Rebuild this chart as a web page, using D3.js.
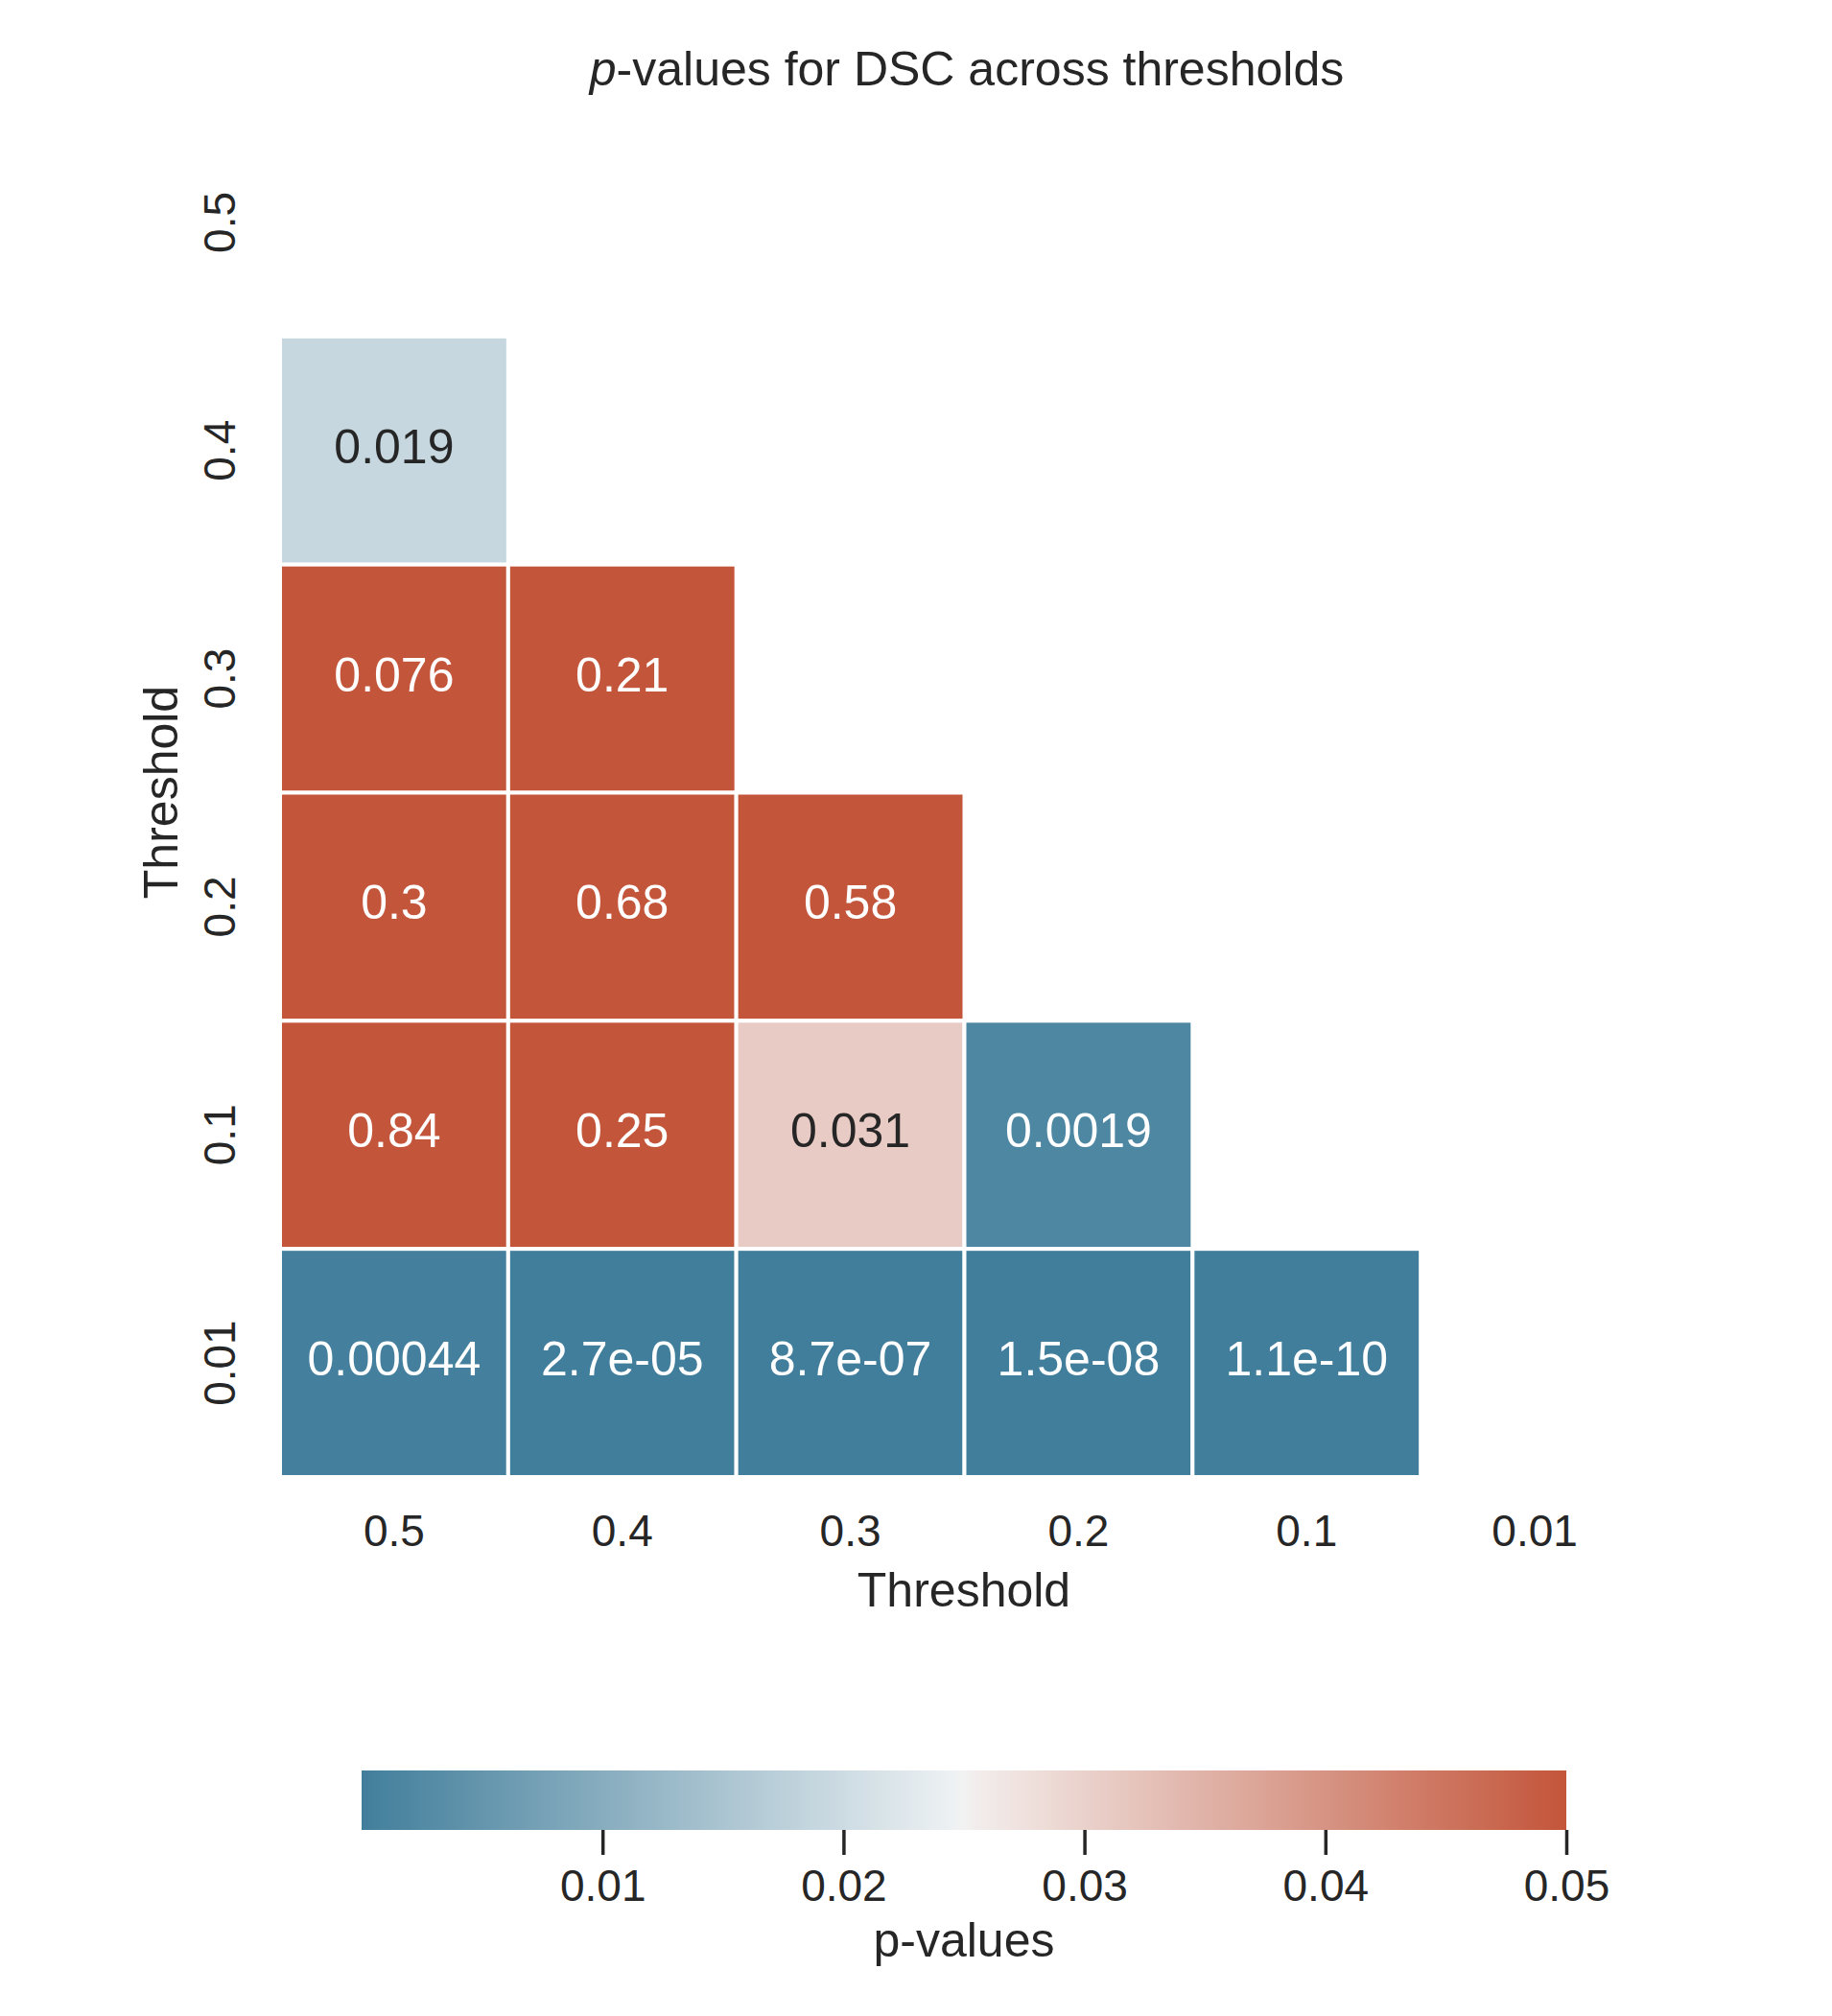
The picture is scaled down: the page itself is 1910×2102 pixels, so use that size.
<!DOCTYPE html>
<html>
<head>
<meta charset="utf-8">
<script src="https://cdn.jsdelivr.net/npm/d3@7"></script>
<style>
  body { margin: 0; background: #fff; }
  svg { display: block; font-family: "Liberation Sans", Arial, sans-serif; }
</style>
</head>
<body>
<div id="chart"></div>
<script>
// thresholds, used on both axes
var xLabels = ["0.5", "0.4", "0.3", "0.2", "0.1", "0.01"];
var yLabels = ["0.5", "0.4", "0.3", "0.2", "0.1", "0.01"];

// lower triangle of p-values (row = y threshold, column = x threshold)
var pValues = [
    [null, null, null, null, null, null],
    [0.019, null, null, null, null, null],
    [0.076, 0.21, null, null, null, null],
    [0.3, 0.68, 0.58, null, null, null],
    [0.84, 0.25, 0.031, 0.0019, null, null],
    [0.00044, 2.7e-05, 8.7e-07, 1.5e-08, 1.1e-10, null]
];

var colorbarTicks = [0.01, 0.02, 0.03, 0.04, 0.05];

var width = 1910,
    height = 2102,
    textColor = "#262626";

var svg = d3
    .select("#chart")
    .append("svg")
    .attr("width", width)
    .attr("height", height);

var xScale = d3.scaleBand().domain(xLabels).range([292, 1719]);
var yScale = d3.scaleBand().domain(yLabels).range([113, 1540]);

// diverging blue -> light gray -> red, clipped at 0.05
var color = d3
    .scaleLinear()
    .domain([0, 0.0248, 0.025, 0.0252, 0.05])
    .range(["#417e9b", "#eff2f4", "#f2f2f2", "#f3efee", "#c3553a"])
    .interpolate(d3.interpolateRgb)
    .clamp(true);

// python style ".2g"
function fmt(v) {
    if (Math.abs(v) < 1e-4) {
        var s = v.toExponential(1);
        return s.replace(/e([+-])(\d)$/, "e$10$2");
    }
    return String(Number(v.toPrecision(2)));
}

function luminance(c) {
    var rgb = d3.rgb(c);
    var ch = [rgb.r, rgb.g, rgb.b].map(function (x) {
        x = x / 255;
        return x <= 0.03928 ? x / 12.92 : Math.pow((x + 0.055) / 1.055, 2.4);
    });
    return 0.2126 * ch[0] + 0.7152 * ch[1] + 0.0722 * ch[2];
}

var cells = [];
pValues.forEach(function (row, i) {
    row.forEach(function (v, j) {
        if (v !== null) cells.push({ x: xLabels[j], y: yLabels[i], v: v });
    });
});

var cellG = svg.append("g");

cellG
    .selectAll("rect")
    .data(cells)
    .enter()
    .append("rect")
    .attr("x", function (d) { return xScale(d.x); })
    .attr("y", function (d) { return yScale(d.y); })
    .attr("width", xScale.bandwidth())
    .attr("height", yScale.bandwidth())
    .attr("fill", function (d) { return color(d.v); })
    .attr("stroke", "#fff")
    .attr("stroke-width", 4);

cellG
    .selectAll("text")
    .data(cells)
    .enter()
    .append("text")
    .attr("x", function (d) { return xScale(d.x) + xScale.bandwidth() / 2; })
    .attr("y", function (d) { return yScale(d.y) + yScale.bandwidth() / 2; })
    .attr("dy", "0.26em")
    .attr("text-anchor", "middle")
    .style("font-size", "50px")
    .attr("fill", function (d) {
        return luminance(color(d.v)) > 0.408 ? textColor : "#ffffff";
    })
    .text(function (d) { return fmt(d.v); });

// x axis
var xAxis = svg
    .append("g")
    .attr("transform", "translate(0,1540)")
    .call(d3.axisBottom(xScale).tickSize(0));
xAxis.select(".domain").remove();
xAxis
    .selectAll("text")
    .attr("y", 72)
    .attr("dy", 0)
    .attr("fill", textColor)
    .style("font-size", "46px")
    .style("font-family", "Liberation Sans, Arial, sans-serif");

// y axis, labels rotated
var yAxis = svg
    .append("g")
    .attr("transform", "translate(292,0)")
    .call(d3.axisLeft(yScale).tickSize(0));
yAxis.select(".domain").remove();
yAxis
    .selectAll("text")
    .attr("x", 0)
    .attr("dy", 0)
    .attr("transform", "translate(-47,0) rotate(-90)")
    .attr("text-anchor", "middle")
    .attr("fill", textColor)
    .style("font-size", "46px")
    .style("font-family", "Liberation Sans, Arial, sans-serif");

svg
    .append("text")
    .attr("x", 1005)
    .attr("y", 1675)
    .attr("text-anchor", "middle")
    .attr("fill", textColor)
    .style("font-size", "50px")
    .text("Threshold");

svg
    .append("text")
    .attr("transform", "translate(185,826) rotate(-90)")
    .attr("text-anchor", "middle")
    .attr("fill", textColor)
    .style("font-size", "50px")
    .text("Threshold");

var title = svg
    .append("text")
    .attr("x", 1008)
    .attr("y", 89)
    .attr("text-anchor", "middle")
    .attr("fill", textColor)
    .style("font-size", "50px");
title.append("tspan").style("font-style", "italic").text("p");
title.append("tspan").text("-values for DSC across thresholds");

// colorbar
var cScale = d3.scaleLinear().domain([0, 0.05]).range([377, 1633]);

var grad = svg
    .append("defs")
    .append("linearGradient")
    .attr("id", "cbar")
    .attr("x1", "0%")
    .attr("x2", "100%");
grad
    .selectAll("stop")
    .data(d3.range(0, 1.0001, 0.01))
    .enter()
    .append("stop")
    .attr("offset", function (d) { return d * 100 + "%"; })
    .attr("stop-color", function (d) { return color(d * 0.05); });

svg
    .append("rect")
    .attr("x", cScale(0))
    .attr("y", 1846)
    .attr("width", cScale(0.05) - cScale(0))
    .attr("height", 62)
    .attr("fill", "url(#cbar)");

var cAxis = svg
    .append("g")
    .attr("transform", "translate(0,1908)")
    .call(
        d3.axisBottom(cScale)
            .tickValues(colorbarTicks)
            .tickSize(26)
            .tickFormat(d3.format(".2f"))
    );
cAxis.select(".domain").remove();
cAxis.selectAll("line").attr("stroke", textColor).attr("stroke-width", 3.5);
cAxis
    .selectAll("text")
    .attr("y", 74)
    .attr("dy", 0)
    .attr("fill", textColor)
    .style("font-size", "46px")
    .style("font-family", "Liberation Sans, Arial, sans-serif");

svg
    .append("text")
    .attr("x", 1005)
    .attr("y", 2040)
    .attr("text-anchor", "middle")
    .attr("fill", textColor)
    .style("font-size", "50px")
    .text("p-values");
</script>
</body>
</html>
